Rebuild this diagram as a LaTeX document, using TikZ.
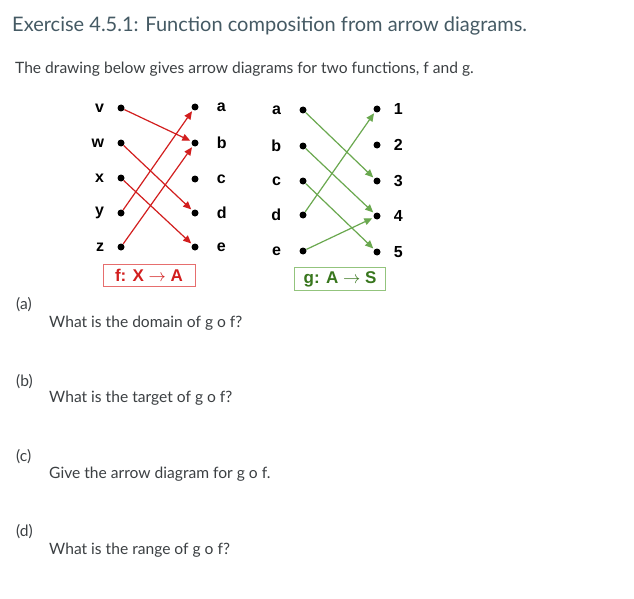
\documentclass[tikz,border=0pt]{standalone}
\usepackage{fontspec}
\setmainfont{Lato}
\newfontfamily\diagfont{Liberation Sans}
\usetikzlibrary{arrows.meta,positioning}
\definecolor{titleGray}{RGB}{69,90,100}
\definecolor{textGray}{RGB}{60,64,67}
\definecolor{fRed}{RGB}{210,30,30}
\definecolor{fRedLight}{RGB}{230,110,110}
\definecolor{gGreen}{RGB}{106,168,79}
\definecolor{gGreenLight}{RGB}{147,196,125}
\definecolor{gGreenDark}{RGB}{56,118,29}

\begin{document}
\begin{tikzpicture}[x=1pt,y=-1pt,
  txt/.style={anchor=base west,inner sep=0pt,text=textGray,font=\fontsize{15.6}{18}\selectfont},
  dot/.style={circle,fill=black,inner sep=0pt,minimum size=7pt},
  lbl/.style={inner sep=0pt,font=\diagfont\bfseries\fontsize{16}{18}\selectfont},
  farrow/.style={-{Triangle[length=8pt,width=7pt]},line width=1.2pt,draw=fRed,shorten >=1.5pt},
  garrow/.style={-{Triangle[length=8pt,width=7pt]},line width=1.2pt,draw=gGreen,shorten >=1.5pt},
  fbox/.style={draw=fRedLight,thick,minimum width=92pt,minimum height=22pt,text=fRed,font=\diagfont\bfseries\fontsize{17}{18}\selectfont},
  gbox/.style={draw=gGreenLight,thick,minimum width=91pt,minimum height=23pt,text=gGreenDark,font=\diagfont\bfseries\fontsize{17}{18}\selectfont}
]
  \useasboundingbox (0,0) rectangle (634,599);
  \fill[white] (0,0) rectangle (634,599);

  % heading
  \node[txt,text=titleGray,font=\fontsize{20}{24}\selectfont] (title) at (12,32) {Exercise 4.5.1: Function composition from arrow diagrams.};
  \node[txt] (intro) at (15,74) {The drawing below gives arrow diagrams for two functions, f and g.};

  % f: X -> A
  \node[dot] (fv) at (121,108) {};
  \node[dot] (fw) at (121,143) {};
  \node[dot] (fx) at (121,178) {};
  \node[dot] (fy) at (121,213) {};
  \node[dot] (fz) at (121,247) {};
  \node[dot] (fa) at (195,107) {};
  \node[dot] (fb) at (195,143) {};
  \node[dot] (fc) at (195,179) {};
  \node[dot] (fd) at (195,213) {};
  \node[dot] (fe) at (195,247) {};
  \node[lbl,left=13pt of fv] {v};
  \node[lbl,left=13pt of fw] {w};
  \node[lbl,left=13pt of fx] {x};
  \node[lbl,left=13pt of fy] {y};
  \node[lbl,left=13pt of fz] {z};
  \node[lbl,right=18pt of fa] {a};
  \node[lbl,right=18pt of fb] {b};
  \node[lbl,right=18pt of fc] {c};
  \node[lbl,right=18pt of fd] {d};
  \node[lbl,right=18pt of fe] {e};
  \draw[farrow] (fv) -- (fb);
  \draw[farrow] (fw) -- (fd);
  \draw[farrow] (fx) -- (fe);
  \draw[farrow] (fy) -- (fa);
  \draw[farrow] (fz) -- (fb);
  \node[fbox] (fname) at (149,275) {f: X $\rightarrow$ A};

  % g: A -> S
  \node[dot] (ga) at (303,110) {};
  \node[dot] (gb) at (303,146) {};
  \node[dot] (gc) at (303,181) {};
  \node[dot] (gd) at (303,215) {};
  \node[dot] (ge) at (303,251) {};
  \node[dot] (g1) at (377,109) {};
  \node[dot] (g2) at (377,145) {};
  \node[dot] (g3) at (377,181) {};
  \node[dot] (g4) at (377,216) {};
  \node[dot] (g5) at (377,252) {};
  \node[lbl,left=18pt of ga] {a};
  \node[lbl,left=18pt of gb] {b};
  \node[lbl,left=18pt of gc] {c};
  \node[lbl,left=18pt of gd] {d};
  \node[lbl,left=18pt of ge] {e};
  \node[lbl,right=13pt of g1] {1};
  \node[lbl,right=13pt of g2] {2};
  \node[lbl,right=13pt of g3] {3};
  \node[lbl,right=13pt of g4] {4};
  \node[lbl,right=13pt of g5] {5};
  \draw[garrow] (ga) -- (g3);
  \draw[garrow] (gb) -- (g4);
  \draw[garrow] (gc) -- (g5);
  \draw[garrow] (gd) -- (g1);
  \draw[garrow] (ge) -- (g4);
  \node[gbox] (gname) at (340,279) {g: A $\rightarrow$ S};

  % questions
  \node[txt] (qa) at (16,309) {(a)};
  \node[txt] (ta) at (49,327) {What is the domain of g o f?};
  \node[txt] (qb) at (16,386) {(b)};
  \node[txt] (tb) at (49,402) {What is the target of g o f?};
  \node[txt] (qc) at (16,461) {(c)};
  \node[txt] (tc) at (49,478) {Give the arrow diagram for g o f.};
  \node[txt] (qd) at (16,536) {(d)};
  \node[txt] (td) at (49,554) {What is the range of g o f?};
\end{tikzpicture}
\end{document}
